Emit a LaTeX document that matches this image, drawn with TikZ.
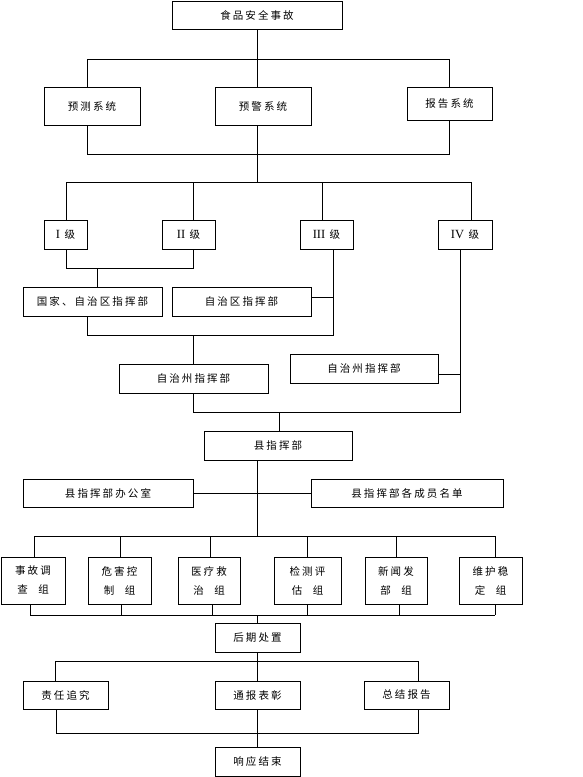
\documentclass[tikz,border=0pt]{standalone}
\usepackage{fontspec}
\newfontfamily\cjk[LetterSpace=20]{Noto Sans CJK SC}
\newfontfamily\rmn{Liberation Serif}
\begin{document}
\begin{tikzpicture}[x=1pt,y=-1pt,
  line width=0.9pt,
  box/.style={draw, inner sep=0pt, align=center, font=\cjk\fontsize{10.5}{19}\selectfont},
  grp/.style={box, minimum height=47pt},
  lvl/.style={box, minimum height=29pt}]
\useasboundingbox[fill=white] (0,0) rectangle (582,777);

% nodes
\node[box, minimum width=170pt, minimum height=28pt] (top) at (257,15) {食品安全事故};
\node[box, minimum width=96pt, minimum height=38pt] (yc) at (92,106) {预测系统};
\node[box, minimum width=96pt, minimum height=38pt] (yj) at (263,106) {预警系统};
\node[box, minimum width=85pt, minimum height=33pt] (bg) at (449.5,103.5) {报告系统};

\node[lvl, minimum width=43pt] (l1) at (65.5,234.5) {{\rmn\fontsize{12.5}{14}\selectfont I} 级};
\node[lvl, minimum width=53pt] (l2) at (188.5,234.5) {{\rmn\fontsize{12.5}{14}\selectfont II} 级};
\node[lvl, minimum width=53pt] (l3) at (326.5,234.5) {{\rmn\fontsize{12.5}{14}\selectfont III} 级};
\node[lvl, minimum width=54pt] (l4) at (465,234.5) {{\rmn\fontsize{12.5}{14}\selectfont IV} 级};

\node[lvl, minimum width=139pt] (gj) at (92.5,301.5) {国家、自治区指挥部};
\node[lvl, minimum width=139pt] (zzq) at (241.5,301.5) {自治区指挥部};
\node[lvl, minimum width=149pt] (zzA) at (193.5,378.5) {自治州指挥部};
\node[lvl, minimum width=148pt] (zzB) at (364,368.5) {自治州指挥部};
\node[lvl, minimum width=148pt] (xian) at (278,445.5) {县指挥部};
\node[box, minimum width=170pt, minimum height=28pt] (bgs) at (108,493) {县指挥部办公室};
\node[box, minimum width=192pt, minimum height=28pt] (cy) at (407,493) {县指挥部各成员名单};

\node[grp, minimum width=64pt] (g1) at (33,580.5) {事故调\\查\phantom{故}组};
\node[grp, minimum width=63pt] (g2) at (119.5,580.5) {危害控\\制\phantom{害}组};
\node[grp, minimum width=62pt] (g3) at (209,580.5) {医疗救\\治\phantom{疗}组};
\node[grp, minimum width=67pt] (g4) at (307.5,580.5) {检测评\\估\phantom{测}组};
\node[grp, minimum width=62pt] (g5) at (396,580.5) {新闻发\\部\phantom{闻}组};
\node[grp, minimum width=63pt] (g6) at (490.5,580.5) {维护稳\\定\phantom{护}组};

\node[lvl, minimum width=85pt] (hq) at (257.5,637.5) {后期处置};
\node[box, minimum width=85pt, minimum height=28pt] (zr) at (65.5,695) {责任追究};
\node[box, minimum width=85pt, minimum height=28pt] (tb) at (257.5,695) {通报表彰};
\node[box, minimum width=85pt, minimum height=28pt] (zj) at (406.5,695) {总结报告};
\node[lvl, minimum width=85pt] (end) at (257.5,761.5) {响应结束};

% bus coordinates
\coordinate (a1) at (87,59);  \coordinate (a2) at (449,59);
\coordinate (b1) at (87,154); \coordinate (b2) at (449,154); \coordinate (bc) at (257,154);
\coordinate (c1) at (66,182); \coordinate (c2) at (193,182); \coordinate (c3) at (322,182); \coordinate (c4) at (471,182); \coordinate (cc) at (257,182);
\coordinate (d1) at (66,268); \coordinate (d2) at (193,268); \coordinate (dm) at (97,268);
\coordinate (e1) at (87,335); \coordinate (e2) at (333,335); \coordinate (em) at (193,335);
\coordinate (e3) at (333,297);
\coordinate (f1) at (193,412); \coordinate (f2) at (460,412); \coordinate (fm) at (279,412);
\coordinate (f3) at (460,374);
\coordinate (h1) at (257,488);
\coordinate (k0) at (257,536);
\coordinate (k1) at (34,536); \coordinate (k2) at (120,536); \coordinate (k3) at (210,536);
\coordinate (k4) at (307,536); \coordinate (k5) at (396,536); \coordinate (k6) at (495,536);
\coordinate (m1) at (30,615); \coordinate (m2) at (121,615); \coordinate (m3) at (212,615);
\coordinate (m4) at (307,615); \coordinate (m5) at (399,615); \coordinate (m6) at (495,615);
\coordinate (m0) at (257,615);
\coordinate (n1) at (55,661); \coordinate (n2) at (418,661); \coordinate (n0) at (257,661);
\coordinate (q1) at (56,733); \coordinate (q2) at (418,733);

% connectors
\draw (top.south) -- (yj.north -| top.south);
\draw (yc.north -| a1) -- (a1) -- (a2) -- (bg.north -| a2);
\draw (yc.south -| b1) -- (b1) -- (b2) -- (bg.south -| b2);
\draw (yj.south -| bc) -- (cc);
\draw (l1.north -| c1) -- (c1) -- (c4) -- (l4.north -| c4);
\draw (c2) -- (l2.north -| c2);
\draw (c3) -- (l3.north -| c3);
\draw (l1.south -| d1) -- (d1) -- (d2) -- (l2.south -| d2);
\draw (dm) -- (gj.north -| dm);
\draw (zzq.east |- e3) -- (e3);
\draw (l3.south -| e2) -- (e2) -- (e1) -- (gj.south -| e1);
\draw (em) -- (zzA.north -| em);
\draw (zzA.south -| f1) -- (f1) -- (f2) -- (l4.south -| f2);
\draw (zzB.east |- f3) -- (f3);
\draw (fm) -- (xian.north -| fm);
\draw (xian.south -| h1) -- (k0);
\draw (bgs.east) -- (cy.west);
\draw (k1) -- (k6);
\foreach \i in {1,...,6} {
  \draw (k\i) -- (g\i.north -| k\i);
  \draw (g\i.south -| m\i) -- (m\i);
}
\draw (m1) -- (m6);
\draw (m0) -- (hq.north -| m0);
\draw (hq.south -| n0) -- (n0);
\draw (zr.north -| n1) -- (n1) -- (n2) -- (zj.north -| n2);
\draw (n0) -- (tb.north -| n0);
\draw (zr.south -| q1) -- (q1) -- (q2) -- (zj.south -| q2);
\draw (tb.south -| n0) -- (end.north -| n0);
\end{tikzpicture}
\end{document}
